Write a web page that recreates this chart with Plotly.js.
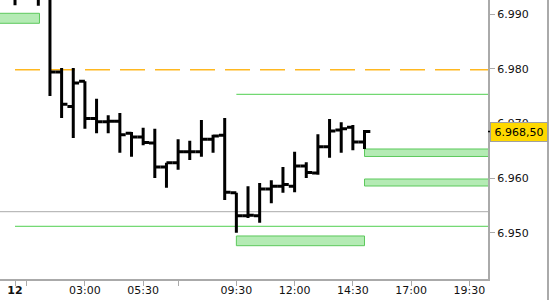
<!DOCTYPE html>
<html>
<head>
<meta charset="utf-8">
<script src="https://cdn.plot.ly/plotly-3.0.1.min.js"></script>
<style>html,body{margin:0;padding:0;background:#fff;}#chart{width:550px;height:300px;}</style>
</head>
<body>
<div id="chart"></div>
<script>
// Bar times (hours from 00:00 of day 12), 30-minute bars
const hours = [0,0.5,1,1.5,2,2.5,3,3.5,4,4.5,5,5.5,6,6.5,7,7.5,8,8.5,9,9.5,10,10.5,11,11.5,12,12.5,13,13.5,14,14.5,15];
const opens  = [6.9950,6.9940,6.9955,6.9950,6.9794,6.9731,6.9777,6.9709,6.9703,6.9704,6.9682,6.9675,6.9664,6.9620,6.9628,6.9648,6.9648,6.9671,6.9678,6.9573,6.9531,6.9531,6.9580,6.9585,6.9585,6.9622,6.9609,6.9657,6.9688,6.9693,6.9666];
const highs  = [6.9960,6.9965,6.9975,6.9955,6.9801,6.9801,6.9777,6.9745,6.9715,6.9719,6.9684,6.9692,6.9690,6.9628,6.9671,6.9668,6.9706,6.9679,6.9710,6.9573,6.9585,6.9591,6.9596,6.9620,6.9648,6.9629,6.9680,6.9708,6.9702,6.9697,6.9688];
const lows   = [6.9916,6.9932,6.9915,6.9750,6.9710,6.9673,6.9690,6.9682,6.9682,6.9646,6.9639,6.9660,6.9600,6.9582,6.9615,6.9633,6.9639,6.9646,6.9560,6.9500,6.9527,6.9518,6.9554,6.9573,6.9574,6.9600,6.9606,6.9637,6.9646,6.9651,6.9653];
const closes = [6.9940,6.9955,6.9950,6.9794,6.9735,6.9774,6.9709,6.9703,6.9704,6.9679,6.9675,6.9665,6.9620,6.9628,6.9648,6.9648,6.9671,6.9677,6.9574,6.9531,6.9532,6.9580,6.9585,6.9588,6.9622,6.9610,6.9657,6.9686,6.9690,6.9666,6.9685];

// x tick positions and labels
const xTickVals = [0,0.5,3,5.5,7,9.5,12,14.5,17,19.5];
const xTickText = ['<b>12</b>','','03:00','05:30','','09:30','12:00','14:30','17:00','19:30'];
const yTickVals = [6.950,6.960,6.970,6.980,6.990];
const yTickText = ['6.950','6.960','6.970','6.980','6.990'];

// Levels: [price, startHour]
const dashedLevel = [6.9798, 0];
const greenLevels = [[6.97531, 9.5],[6.95117, 0]];
const grayLevel = [6.95384, -1];
// Zones: [startHour, endHour, lowPrice, highPrice]
const zones = [[-1,1.05,6.98830,6.99013],[9.5,15.0,6.94762,6.94940],[15.0,21,6.96394,6.96531],[15.0,21,6.95854,6.95982]];
const lastPrice = 6.9685;
const lastPriceText = '6.968,50';

const xRange = [-0.644, 20.30];
const yRange = [6.94153, 6.99256];

const shapes = [];
zones.forEach(z => shapes.push({type:'rect', xref:'x', yref:'y', x0:z[0], x1:z[1], y0:z[2], y1:z[3],
  fillcolor:'#b4ebb4', line:{color:'#5cc95c', width:1}, layer:'below'}));
shapes.push({type:'line', xref:'x', yref:'y', x0:grayLevel[1], x1:25, y0:grayLevel[0], y1:grayLevel[0], line:{color:'#aaaaaa', width:1}, layer:'below'});
greenLevels.forEach(g => shapes.push({type:'line', xref:'x', yref:'y', x0:g[1], x1:25, y0:g[0], y1:g[0], line:{color:'#4fcf4f', width:1}, layer:'below'}));
shapes.push({type:'line', xref:'x', yref:'y', x0:dashedLevel[1], x1:25, y0:dashedLevel[0], y1:dashedLevel[0], line:{color:'#ffb820', width:1.5, dash:'25px,10px'}, layer:'below'});
shapes.push({type:'line', xref:'paper', yref:'paper', x0:548/488, x1:548/488, y0:-21/279, y1:1, line:{color:'#aaaaaa', width:2}});
shapes.push({type:'line', xref:'paper', yref:'y', x0:1, x1:1.009, y0:lastPrice, y1:lastPrice, line:{color:'#000', width:1.5}});

const trace = {
  type:'ohlc', x:hours, open:opens, high:highs, low:lows, close:closes,
  increasing:{line:{color:'#000', width:3}},
  decreasing:{line:{color:'#000', width:3}},
  tickwidth:0.5, hoverinfo:'skip', showlegend:false
};

const layout = {
  width:550, height:300,
  margin:{l:0, r:62, t:0, b:21, pad:0},
  paper_bgcolor:'#fff', plot_bgcolor:'#fff',
  showlegend:false,
  font:{family:'DejaVu Sans', size:11, color:'#111'},
  xaxis:{range:xRange, tickvals:xTickVals, ticktext:xTickText, showgrid:false, zeroline:false,
    showline:true, linecolor:'#aaaaaa', linewidth:1.5, ticks:'outside', ticklen:5, tickcolor:'#aaaaaa',
    ticklabelstandoff:-5,
    tickfont:{family:'DejaVu Sans', size:11, color:'#111'}, rangeslider:{visible:false}, fixedrange:true},
  yaxis:{range:yRange, side:'right', tickvals:yTickVals, ticktext:yTickText, showgrid:false, zeroline:false,
    showline:true, linecolor:'#aaaaaa', linewidth:2, ticks:'outside', ticklen:5, tickcolor:'#aaaaaa',
    tickfont:{family:'DejaVu Sans', size:11, color:'#111'}, fixedrange:true},
  shapes:shapes,
  annotations:[{xref:'paper', yref:'y', x:490/488, y:lastPrice, xanchor:'left', yanchor:'middle',
    text:lastPriceText, showarrow:false, bgcolor:'#ffd900', bordercolor:'#a0a0a0', borderwidth:1, borderpad:1,
    width:54, height:16, font:{family:'DejaVu Sans', size:11, color:'#000'}}]
};

Plotly.newPlot('chart', [trace], layout, {staticPlot:true, displayModeBar:false});
</script>
</body>
</html>
